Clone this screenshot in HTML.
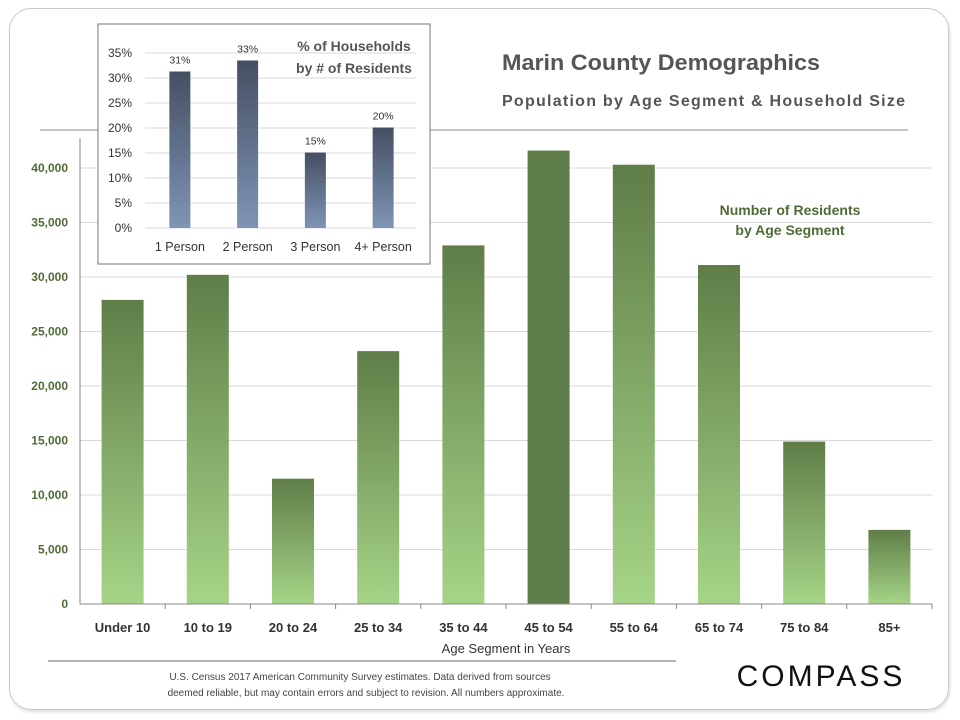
<!DOCTYPE html>
<html><head><meta charset="utf-8"><style>
body{margin:0;background:#fff;width:960px;height:720px;overflow:hidden;font-family:"Liberation Sans",sans-serif}
#card{position:absolute;left:9px;top:8px;width:940px;height:702px;border:1px solid #c8c8c8;border-radius:22px;box-sizing:border-box;box-shadow:1px 2px 3px #ddd}
</style></head><body>
<div id="card"></div>
<svg width="960" height="720" style="position:absolute;left:0;top:0" id="svg">
<defs>
<linearGradient id="gg" x1="0" y1="0" x2="0" y2="1"><stop offset="0" stop-color="#5f7d48"/><stop offset="1" stop-color="#a6d487"/></linearGradient>
<linearGradient id="bg" x1="0" y1="0" x2="0" y2="1"><stop offset="0" stop-color="#454f63"/><stop offset="1" stop-color="#7f94b5"/></linearGradient>
</defs>
<line x1="40" y1="130" x2="908" y2="130" stroke="#888"/>
<g id="main"></g>
<text x="502" y="70" font-size="22" font-weight="bold" fill="#555" textLength="318" lengthAdjust="spacingAndGlyphs">Marin County Demographics</text>
<text x="502" y="106" font-size="16" font-weight="bold" fill="#555" textLength="403">Population  by Age Segment &amp; Household  Size</text>
<text x="790" y="215" font-size="14" font-weight="bold" fill="#4e6b35" text-anchor="middle">Number of Residents</text>
<text x="790" y="235" font-size="14" font-weight="bold" fill="#4e6b35" text-anchor="middle">by Age Segment</text>
<text x="506" y="653" font-size="13" fill="#333" text-anchor="middle">Age Segment in Years</text>
<line x1="48" y1="661" x2="676" y2="661" stroke="#666"/>
<text x="360" y="680" font-size="10" fill="#444" text-anchor="middle">U.S. Census 2017 American  Community Survey estimates. Data derived from sources</text>
<text x="366" y="696" font-size="10" fill="#444" text-anchor="middle">deemed reliable, but may contain errors and subject to revision. All numbers approximate.</text>
<text x="821" y="686" font-size="30" fill="#111" text-anchor="middle" letter-spacing="3">COMPASS</text>
<rect x="98" y="24" width="332" height="240" fill="#fff" stroke="#777"/>
<g id="inset"></g>
<text x="354" y="51" font-size="14" font-weight="bold" fill="#555" text-anchor="middle">% of Households</text>
<text x="354" y="73" font-size="14" font-weight="bold" fill="#555" text-anchor="middle">by # of Residents</text>
</svg>
<script>
const cats=["Under 10","10 to 19","20 to 24","25 to 34","35 to 44","45 to 54","55 to 64","65 to 74","75 to 84","85+"];
const residents=[27900,30200,11500,23200,32900,41600,40300,31100,14900,6800];
const yTicks=[0,5000,10000,15000,20000,25000,30000,35000,40000];
const hhCats=["1 Person","2 Person","3 Person","4+ Person"];
const hhPct=[31.3,33.5,15.1,20.1];
const hhLabels=["31%","33%","15%","20%"];
const pctTicks=[0,5,10,15,20,25,30,35];
const NS="http://www.w3.org/2000/svg";
function mk(p,t,a,txt){const e=document.createElementNS(NS,t);for(const k in a)e.setAttribute(k,a[k]);if(txt!==undefined)e.textContent=txt;p.appendChild(e);return e;}
const g=document.getElementById('main');
const x0=80,x1=932,y0=604,yTop=168;
const ys=v=>y0-(v/40000)*(y0-yTop);
const bw=(x1-x0)/cats.length;
yTicks.forEach(t=>{
 if(t>0){const l=mk(g,'line',{x1:x0,x2:x1,y1:ys(t),y2:ys(t),stroke:'#d9d9d9'});
 
 }
 const tx=mk(g,'text',{x:68,y:ys(t)+4,'font-size':12,'font-weight':'bold',fill:'#4e6b35','text-anchor':'end'},t.toLocaleString('en-US'));
 
 
});
cats.forEach((c,i)=>{
 const cx=x0+bw*(i+0.5);
 const r=mk(g,'rect',{x:cx-21,y:ys(residents[i]),width:42,height:y0-ys(residents[i]),fill:i==5?'#5f7d48':'url(#gg)'});
 
 
 const tk=mk(g,'line',{x1:x0+bw*(i+1),x2:x0+bw*(i+1),y1:y0,y2:y0+5,stroke:'#888'});
 
 
 const t=mk(g,'text',{x:cx,y:y0+28,'font-size':13,'font-weight':'bold',fill:'#333','text-anchor':'middle'},c);
 
 
});
const ax=mk(g,'path',{d:`M${x0} ${yTop-30}V${y0}H${x1}`,stroke:'#888',fill:'none'});


const h=document.getElementById('inset');
const ix0=145,ix1=416,iy0=228,iyT=53;
const iys=v=>iy0-(v/35)*(iy0-iyT);
const ibw=(ix1-ix0)/hhCats.length;
pctTicks.forEach(t=>{
 const l=mk(h,'line',{x1:ix0,x2:ix1,y1:iys(t),y2:iys(t),stroke:'#d9d9d9'});
 
 
 const tx=mk(h,'text',{x:132,y:iys(t)+4,'font-size':12,fill:'#333','text-anchor':'end'},t+'%');
 
 
});
hhCats.forEach((c,i)=>{
 const cx=ix0+ibw*(i+0.5)+1;
 const r=mk(h,'rect',{x:cx-10.5,y:iys(hhPct[i]),width:21,height:iy0-iys(hhPct[i]),fill:'url(#bg)'});
 
 
 const v=mk(h,'text',{x:cx,y:iys(hhPct[i])-8,'font-size':10.5,fill:'#333','text-anchor':'middle'},hhLabels[i]);
 
 
 const t=mk(h,'text',{x:cx,y:251,'font-size':12.5,fill:'#333','text-anchor':'middle'},c);
 
 
});
</script>
</body></html>
